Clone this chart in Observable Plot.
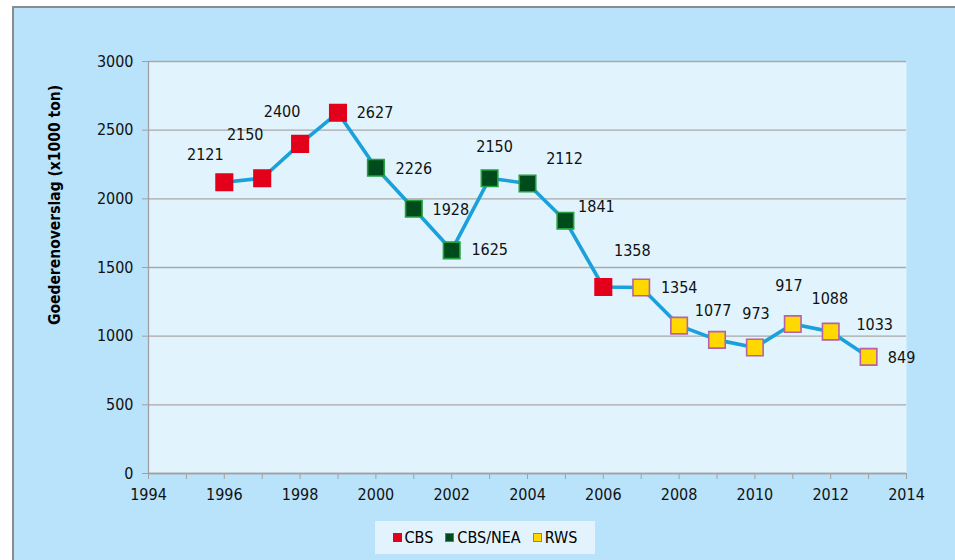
<!DOCTYPE html>
<html>
<head>
<meta charset="utf-8">
<script src="https://cdn.jsdelivr.net/npm/d3@7"></script>
<script src="https://cdn.jsdelivr.net/npm/@observablehq/plot@0.6"></script>
<style>
  html, body { margin: 0; padding: 0; background: #ffffff; }
  #wrap { position: relative; width: 955px; height: 560px; overflow: hidden; font-family: "DejaVu Sans Condensed", "DejaVu Sans", sans-serif; }
  #frame { position: absolute; left: 12px; top: 6px; width: 1000px; height: 600px; background: #b9e3fb; border: 2px solid #8c8c8c; box-sizing: border-box; }
  #chart { position: absolute; left: 0; top: 0; }
  #ytitle { position: absolute; left: 55px; top: 205px; transform: translate(-50%, -50%) rotate(-90deg); white-space: nowrap; font-weight: bold; font-size: 15.5px; color: #000; }
  #legend { position: absolute; left: 375px; top: 521px; width: 220px; height: 33px; background: #e2f3fd; display: flex; align-items: center; justify-content: center; gap: 12px; font-size: 16px; color: #000; }
  #legend .item { display: flex; align-items: center; gap: 3px; }
  #legend .sw { width: 9px; height: 9px; box-sizing: border-box; }
</style>
</head>
<body>
<div id="wrap">
  <div id="frame"></div>
  <div id="chart"></div>
  <div id="ytitle"></div>
  <div id="legend"></div>
</div>
<script>
// ---- data ----
const years = [1996, 1997, 1998, 1999, 2000, 2001, 2002, 2003, 2004, 2005, 2006, 2007, 2008, 2009, 2010, 2011, 2012, 2013];
const values = [2121, 2150, 2400, 2627, 2226, 1928, 1625, 2150, 2112, 1841, 1358, 1354, 1077, 973, 917, 1088, 1033, 849];
const sources = ["CBS", "CBS", "CBS", "CBS", "CBS/NEA", "CBS/NEA", "CBS/NEA", "CBS/NEA", "CBS/NEA", "CBS/NEA", "CBS", "RWS", "RWS", "RWS", "RWS", "RWS", "RWS", "RWS"];
const seriesNames = ["CBS", "CBS/NEA", "RWS"];
const yTicks = [0, 500, 1000, 1500, 2000, 2500, 3000];
const xTicks = [1994, 1996, 1998, 2000, 2002, 2004, 2006, 2008, 2010, 2012, 2014];
const xMinorTicks = d3.range(1994, 2015);
const yTitle = "Goederenoverslag (x1000 ton)";

// ---- styles ----
const fills = {"CBS": "#e3001b", "CBS/NEA": "#004b1c", "RWS": "#ffd800"};
const strokes = {"CBS": "#e3001b", "CBS/NEA": "#22a03e", "RWS": "#b562a8"};
// label placement (pixel offsets from each marker, like manually moved Excel labels)
const labelShift = {
  1996: [-19, -27], 1997: [-17, -43], 1998: [-18, -32], 1999: [37, 0], 2000: [38, 1],
  2001: [37, 1], 2002: [38, 0], 2003: [5, -31], 2004: [37, -25], 2005: [31, -14],
  2006: [29, -36], 2007: [38, 0], 2008: [34, -15], 2009: [39, -26], 2010: [34, -62],
  2011: [37, -25], 2012: [44, -7], 2013: [33, 1]
};

const data = years.map((y, i) => ({year: y, value: values[i], source: sources[i]}));
const font = '"DejaVu Sans Condensed", "DejaVu Sans", sans-serif';

const labelMarks = data.map(d => Plot.text([d], {
  x: "year", y: "value", text: dd => String(dd.value),
  dx: labelShift[d.year][0], dy: labelShift[d.year][1],
  fontSize: 16, fill: "#111", textAnchor: "middle"
}));

const chart = Plot.plot({
  width: 955,
  height: 505,
  marginLeft: 148,
  marginRight: 49,
  marginTop: 61,
  marginBottom: 32,
  style: {background: "transparent", fontFamily: font, overflow: "visible"},
  x: {domain: [1994, 2014], type: "linear"},
  y: {domain: [0, 3000], type: "linear"},
  marks: [
    Plot.frame({fill: "#e1f3fd", stroke: null}),
    Plot.gridY(yTicks, {stroke: "#a8a8a8", strokeOpacity: 1, strokeWidth: 1.3}),
    Plot.ruleX([1994], {stroke: "#a0a0a0", strokeWidth: 1.3}),
    Plot.ruleY([0], {stroke: "#a0a0a0", strokeWidth: 1.3}),
    Plot.axisX({ticks: xMinorTicks, tickSize: 6, stroke: "#a0a0a0", strokeOpacity: 1, tickFormat: () => "", label: null}),
    Plot.axisX({ticks: xTicks, tickSize: 0, tickPadding: 15, tickFormat: d => String(d), fontSize: 16, fill: "#111", label: null}),
    Plot.axisY({ticks: yTicks, tickSize: 6, tickPadding: 9, stroke: "#a0a0a0", strokeOpacity: 1, fontSize: 16, fill: "#111", label: null, tickFormat: d => String(d)}),
    Plot.line(data, {x: "year", y: "value", stroke: "#1aa0da", strokeWidth: 3.6}),
    Plot.dot(data, {x: "year", y: "value", symbol: "square", r: 9.3,
      fill: d => fills[d.source], stroke: d => strokes[d.source], strokeWidth: 1.6}),
    ...labelMarks
  ]
});
document.getElementById("chart").appendChild(chart);

document.getElementById("ytitle").textContent = yTitle;

const legend = document.getElementById("legend");
seriesNames.forEach(name => {
  const item = document.createElement("div");
  item.className = "item";
  const sw = document.createElement("div");
  sw.className = "sw";
  sw.style.background = fills[name];
  sw.style.border = "1px solid " + strokes[name];
  const lab = document.createElement("span");
  lab.textContent = name;
  item.appendChild(sw);
  item.appendChild(lab);
  legend.appendChild(item);
});
</script>
</body>
</html>
